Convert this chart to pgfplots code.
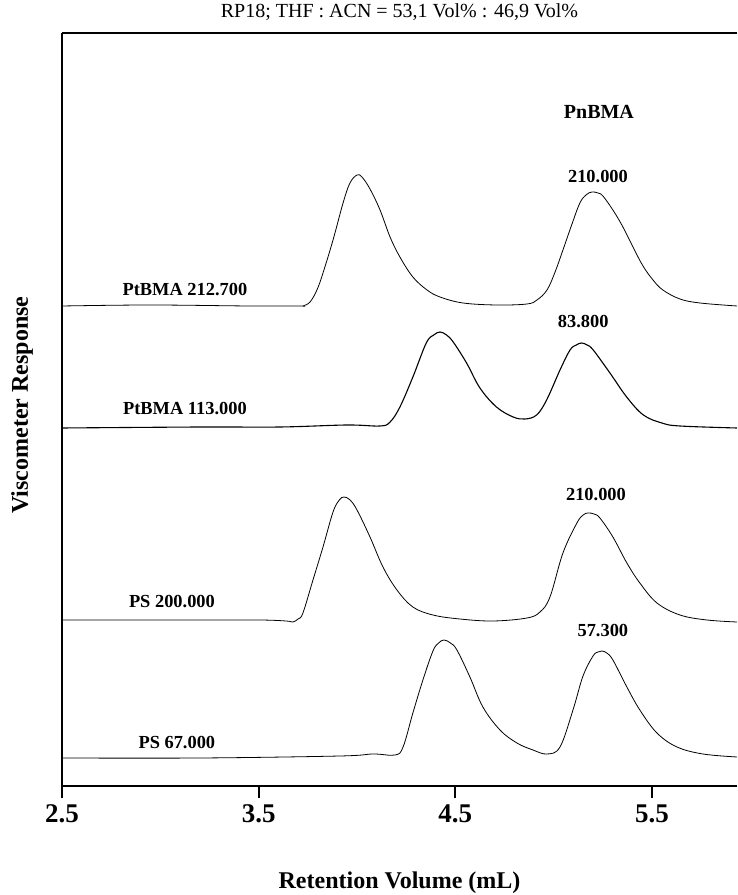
\documentclass[border=0pt]{standalone}
\usepackage{fontspec}
\setmainfont{Liberation Serif}
\usepackage{pgfplots}
\pgfplotsset{compat=1.18}
\begin{document}
\begin{tikzpicture}
\begin{axis}[
  scale only axis, width=337.5pt, height=376.5pt,
  xmin=2.5, xmax=5.932, ymin=0, ymax=753,
  separate axis lines,
  axis x line*=box, axis y line*=left,
  axis line style={line width=0.9pt, -},
  xtick={2.5,3.5,4.5,5.5},
  xticklabels={2.5,3.5,4.5,5.5},
  xticklabel style={font=\fontsize{13.5}{15}\selectfont\bfseries},
  ytick=\empty,
  tick align=outside, tick pos=left,
  major tick length=6pt,
  xtick style={line width=1pt, black},
  clip=false,
  cycle list={{black, line width=0.55pt, no markers}},
  every axis plot/.append style={smooth, tension=0.6},
]
% PtBMA 212.700 / PnBMA 210.000
\addplot coordinates {
(2.500,480) (2.947,481) (3.456,480) (3.710,480) (3.725,480) (3.761,484)
(3.796,496) (3.827,513) (3.878,546) (3.929,583) (3.964,603) (4.000,611)
(4.025,609) (4.066,597) (4.117,576) (4.168,549) (4.218,529) (4.284,509)
(4.356,496) (4.422,489) (4.539,483) (4.711,481) (4.864,482) (4.915,486)
(4.966,496) (5.007,514) (5.047,536) (5.093,562) (5.133,583) (5.164,591)
(5.194,594) (5.225,593) (5.250,590) (5.301,576) (5.352,559) (5.403,539)
(5.454,520) (5.505,506) (5.555,496) (5.642,487) (5.744,483) (5.932,480)};
% PtBMA 113.000 / 83.800
\addplot coordinates {
(2.500,358) (3.202,359) (3.608,359) (3.949,361) (4.117,360) (4.168,364)
(4.218,379) (4.284,409) (4.352,443) (4.390,451) (4.422,454) (4.455,451)
(4.489,444) (4.557,423) (4.625,398) (4.709,379) (4.794,369) (4.854,367)
(4.913,371) (4.964,386) (5.032,416) (5.083,436) (5.115,441) (5.142,443)
(5.170,441) (5.201,436) (5.286,413) (5.371,389) (5.456,371) (5.550,363)
(5.642,360) (5.932,358)};
% PS 200.000 / 210.000
\addplot coordinates {
(2.500,166) (3.202,166) (3.507,166) (3.640,165) (3.674,164) (3.700,167)
(3.725,173) (3.776,206) (3.827,239) (3.878,274) (3.910,286) (3.934,289)
(3.965,286) (4.000,276) (4.066,249) (4.132,219) (4.203,196) (4.284,179)
(4.386,171) (4.523,167) (4.691,165) (4.864,168) (4.930,174) (4.981,189)
(5.047,233) (5.118,263) (5.150,271) (5.174,273) (5.205,272) (5.235,268)
(5.301,249) (5.372,223) (5.438,203) (5.525,183) (5.642,171) (5.779,166)
(5.932,164)};
% PS 67.000 / 57.300
\addplot coordinates {
(2.500,28) (3.202,28) (3.913,30) (4.081,32) (4.193,31) (4.234,39)
(4.284,73) (4.335,106) (4.386,135) (4.415,143) (4.442,146) (4.475,143)
(4.508,136) (4.574,109) (4.640,79) (4.727,56) (4.813,43) (4.895,36)
(4.966,32) (5.032,39) (5.098,76) (5.149,110) (5.200,130) (5.225,134)
(5.245,135) (5.270,133) (5.301,126) (5.372,99) (5.438,76) (5.525,53)
(5.627,39) (5.759,32) (5.932,29)};

\begin{scope}[every node/.style={font=\fontsize{9.2}{11}\selectfont\bfseries}]
\node at (axis cs:3.125,496) {PtBMA 212.700};
\node at (axis cs:3.125,377) {PtBMA 113.000};
\node at (axis cs:3.059,184) {PS 200.000};
\node at (axis cs:3.084,43) {PS 67.000};
\node at (axis cs:5.225,609) {210.000};
\node at (axis cs:5.150,464) {83.800};
\node at (axis cs:5.215,291) {210.000};
\node at (axis cs:5.250,155) {57.300};
\node[font=\fontsize{10}{12}\selectfont\bfseries] at (axis cs:5.23,674) {PnBMA};
\end{scope}
\node[font=\fontsize{10}{12}\selectfont] at (rel axis cs:0.5,1) [yshift=10.25pt] {RP18; THF : ACN = 53,1 Vol\% : 46,9 Vol\%};
\node[font=\fontsize{12}{14}\selectfont\bfseries] at (rel axis cs:0.5,0) [yshift=-48.5pt] {Retention Volume (mL)};
\node[xshift=-20pt, rotate=90, font=\fontsize{12}{14}\selectfont\bfseries] at (rel axis cs:0,0.506) {Viscometer Response};
\end{axis}
\pgfresetboundingbox
\path[use as bounding box] ([xshift=-31pt,yshift=-54.5pt]current axis.south west) rectangle ([yshift=16.5pt]current axis.north east);
\end{tikzpicture}
\end{document}
